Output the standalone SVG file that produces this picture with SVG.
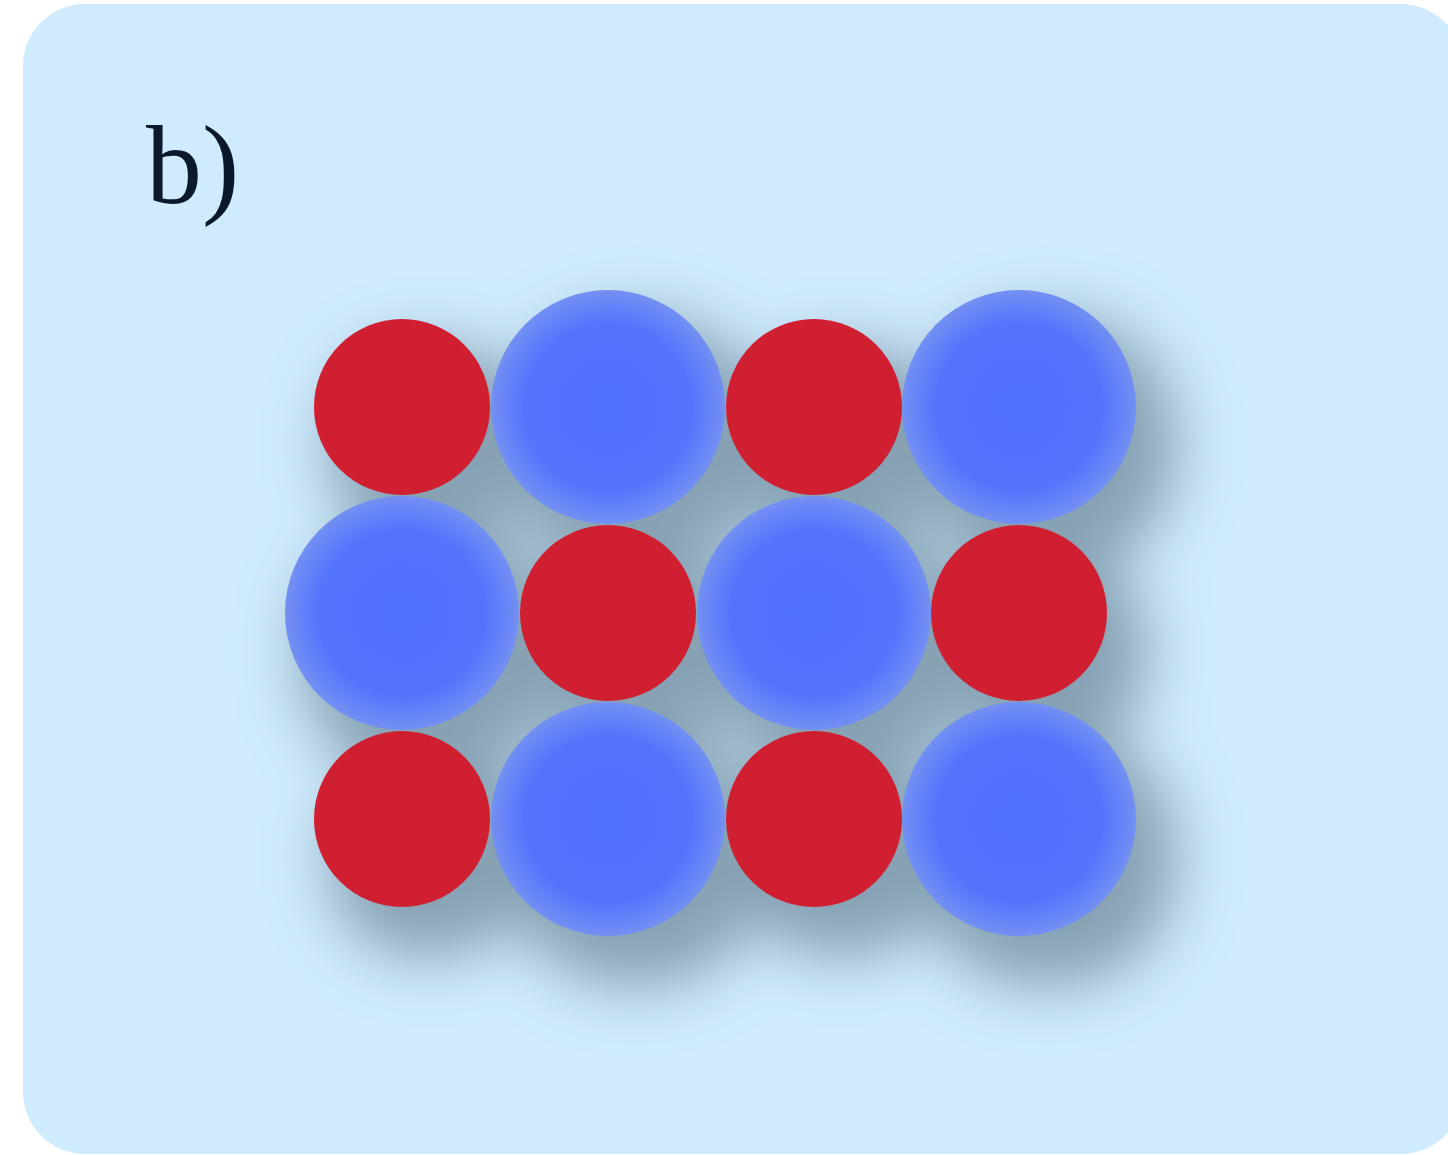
<svg xmlns="http://www.w3.org/2000/svg" width="1448" height="1155" viewBox="0 0 1448 1155">
<defs>
<radialGradient id="gb" cx="0.5" cy="0.5" r="0.5">
<stop offset="0" stop-color="#4f6fff"/>
<stop offset="0.72" stop-color="#5574fd"/>
<stop offset="1" stop-color="#7390f2"/>
</radialGradient>
<filter id="sh" x="-30%" y="-30%" width="160%" height="160%">
<feMorphology in="SourceAlpha" operator="dilate" radius="12" result="d"/>
<feOffset in="d" dx="28" dy="38" result="o"/>
<feGaussianBlur in="o" stdDeviation="30" result="b"/>
<feFlood flood-color="#87a2b4"/>
<feComposite in2="b" operator="in"/>
</filter>
<style>
.r{fill:#d01f30}
.bl{fill:url(#gb)}
</style>
</defs>
<rect x="23" y="4" width="1440" height="1150" rx="62" fill="#cfebfd"/>
<text x="146" y="203" font-family="'Liberation Serif', 'Times New Roman', serif" font-size="112" fill="#0a1a2a">b)</text>
<g id="shadow" filter="url(#sh)">
<circle cx="402" cy="407" r="88"/><circle cx="608" cy="407" r="117"/><circle cx="814" cy="407" r="88"/><circle cx="1019" cy="407" r="117"/>
<circle cx="402" cy="613" r="117"/><circle cx="608" cy="613" r="88"/><circle cx="814" cy="613" r="117"/><circle cx="1019" cy="613" r="88"/>
<circle cx="402" cy="819" r="88"/><circle cx="608" cy="819" r="117"/><circle cx="814" cy="819" r="88"/><circle cx="1019" cy="819" r="117"/>
</g>
<g id="row1">
<circle id="a1" class="r" cx="402" cy="407" r="88"/>
<circle id="a2" class="bl" cx="608" cy="407" r="117"/>
<circle id="a3" class="r" cx="814" cy="407" r="88"/>
<circle id="a4" class="bl" cx="1019" cy="407" r="117"/>
</g>
<g id="row2">
<circle id="b1" class="bl" cx="402" cy="613" r="117"/>
<circle id="b2" class="r" cx="608" cy="613" r="88"/>
<circle id="b3" class="bl" cx="814" cy="613" r="117"/>
<circle id="b4" class="r" cx="1019" cy="613" r="88"/>
</g>
<g id="row3">
<circle id="c1" class="r" cx="402" cy="819" r="88"/>
<circle id="c2" class="bl" cx="608" cy="819" r="117"/>
<circle id="c3" class="r" cx="814" cy="819" r="88"/>
<circle id="c4" class="bl" cx="1019" cy="819" r="117"/>
</g>
</svg>
